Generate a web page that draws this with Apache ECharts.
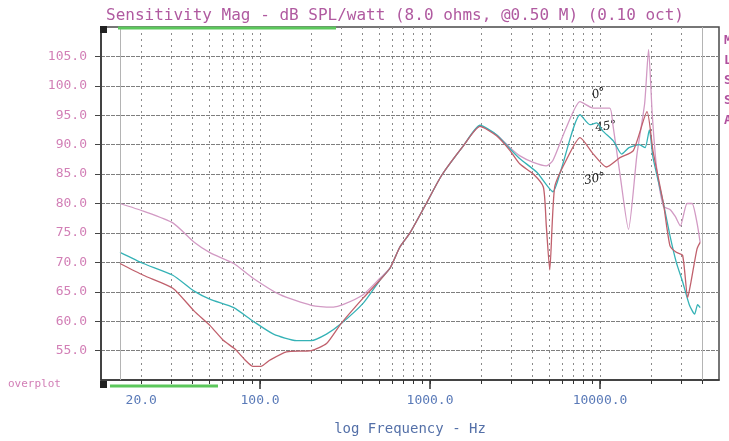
<!DOCTYPE html>
<html>
<head>
<meta charset="utf-8">
<title>Sensitivity Mag</title>
<script src="https://cdn.jsdelivr.net/npm/echarts@6/dist/echarts.min.js"></script>
<style>
  html, body { margin: 0; padding: 0; background: #fff; }
  #chart { width: 729px; height: 441px; }
</style>
</head>
<body>
<div id="chart"></div>
<script>
// frequency in Hz, level in dB SPL
const freq0 = [15, 20.6, 30.7, 41, 51, 70, 91, 131, 200, 270, 307, 404, 508, 581, 665, 762, 950, 1171, 1570, 1967,
  2460, 2955, 3380, 4050, 4830, 5280, 6310, 7630, 9130, 11400, 11900, 13100, 14700, 16500, 18300, 19300, 20300,
  21500, 23600, 25800, 27700, 29700, 32500, 34800, 37200, 38800];
const spl0 = [80, 78.7, 76.7, 73.4, 71.6, 69.8, 67.3, 64.5, 62.7, 62.4, 62.8, 64.5, 67.3, 69, 72.6, 75, 80, 84.8, 89.8, 93.1,
  91.7, 89.5, 88.1, 87, 86.4, 87.3, 92.8, 97.3, 96.2, 96.2, 93.4, 85, 75.6, 88.4, 97, 106.2, 95,
  86.2, 79.5, 79, 77.8, 76.2, 80, 80, 76.7, 73.4];

const freq45 = [15, 20.6, 30.7, 41, 51, 70, 91, 120, 164, 200, 246, 298, 406, 508, 581, 665, 762, 950, 1171, 1570,
  1967, 2460, 2955, 3380, 4250, 5280, 5880, 7630, 8720, 9550, 10400, 12000, 13400, 14800, 17000, 18400, 19500, 20500,
  23600, 25800, 28100, 30600, 33500, 36000, 37500, 38800];
const spl45 = [71.7, 69.8, 67.8, 65.1, 63.7, 62.3, 60, 57.8, 56.7, 56.7, 57.8, 59.5, 63.1, 67, 69, 72.6, 75, 80, 84.8, 89.8,
  93.3, 91.7, 89.3, 87.6, 85.3, 82, 85.6, 95.1, 93.4, 93.7, 92.3, 90.6, 88.4, 89.5, 90, 89.5, 92.5, 87.8,
  80, 74.5, 70, 66.7, 62.8, 61.2, 62.8, 62.3];

const freq30 = [15, 20.6, 30.7, 41, 51, 61, 71, 81.6, 91, 101, 114.5, 143, 200, 246, 298, 406, 508, 581, 665, 762,
  950, 1171, 1570, 1967, 2460, 2955, 3380, 4050, 4640, 4830, 5060, 5410, 6310, 7630, 9130, 10900, 13100, 15700,
  18900, 20500, 23600, 25800, 28100, 30600, 32800, 34300, 37200, 38800];
const spl30 = [69.8, 67.8, 65.6, 61.7, 59.2, 56.7, 55.3, 53.4, 52.3, 52.3, 53.4, 54.8, 55, 56.2, 59.5, 64, 67, 69, 72.6, 75,
  80, 84.8, 89.8, 93.1, 91.5, 89, 86.7, 85, 82.8, 76.2, 68.7, 82.8, 87.3, 91.2, 88.4, 86.2, 87.8, 89,
  95.6, 88.9, 80, 72.8, 71.7, 71.2, 64, 66.7, 72.3, 73.4];

const xLabels = [20, 100, 1000, 10000];
const xMajorTicks = [100, 1000, 10000];
const xGridTicks = [20, 30, 40, 50, 60, 70, 80, 90, 100, 200, 300, 400, 500, 600, 700, 800, 900,
  1000, 2000, 3000, 4000, 5000, 6000, 7000, 8000, 9000, 10000, 20000, 30000, 40000];
const yLabels = [55, 60, 65, 70, 75, 80, 85, 90, 95, 100, 105];
const sweepLimits = [15, 40000];   // solid markers at the ends of the measured range

const pair = (f, s) => f.map((v, i) => [v, s[i]]);

const G = { left: 101, right: 10, top: 27, bottom: 54 };
const mono = 'DejaVu Sans Mono';
const pinkText = '#d27fb6';

const chart = echarts.init(document.getElementById('chart'), null, { renderer: 'canvas' });

chart.setOption({
  animation: false,
  backgroundColor: '#fff',
  title: {
    text: 'Sensitivity Mag - dB SPL/watt (8.0 ohms, @0.50 M) (0.10 oct)',
    left: 101,
    top: 3,
    textStyle: { fontFamily: mono, fontSize: 16, fontWeight: 'normal', color: '#b05aa0' }
  },
  grid: {
    left: G.left, right: G.right, top: G.top, bottom: G.bottom,
    show: true, borderColor: '#4a4a4a', borderWidth: 1.5, backgroundColor: '#fff'
  },
  xAxis: [{
    type: 'log',
    logBase: 10,
    min: 11.6,
    max: 50100,
    name: 'log Frequency - Hz',
    nameLocation: 'middle',
    nameGap: 42,
    nameTextStyle: { fontFamily: mono, fontSize: 14, color: '#5470a8' },
    axisLine: { show: true, lineStyle: { color: '#333', width: 1.5 } },
    axisTick: { show: true, customValues: xGridTicks, length: 4, lineStyle: { color: '#333' } },
    axisLabel: {
      customValues: xLabels,
      margin: 14,
      formatter: v => Number(v).toFixed(1),
      fontFamily: mono, fontSize: 13, color: '#5a7ab8'
    },
    splitLine: { show: true, lineStyle: { color: '#8a8a8a', width: 1, type: [2, 4] } }
  }, {
    type: 'log',
    logBase: 10,
    min: 11.6,
    max: 50100,
    position: 'bottom',
    axisLine: { show: false },
    axisTick: { show: true, customValues: xMajorTicks, length: 9, lineStyle: { color: '#333', width: 1.5 } },
    axisLabel: { show: false },
    splitLine: { show: false }
  }],
  yAxis: {
    type: 'value',
    min: 50,
    max: 110,
    axisLine: { show: true, lineStyle: { color: '#333', width: 1.5 } },
    axisTick: { show: true, customValues: yLabels, length: 6, lineStyle: { color: '#444' } },
    axisLabel: {
      customValues: yLabels,
      margin: 14,
      formatter: v => Number(v).toFixed(1),
      fontFamily: mono, fontSize: 13, color: pinkText
    },
    splitLine: { show: true, lineStyle: { color: '#7e7e7e', width: 1, type: [4, 1] } }
  },
  series: [
    {
      name: '0 deg', type: 'line', data: pair(freq0, spl0), showSymbol: false, smooth: 0.2,
      lineStyle: { color: '#d29ac4', width: 1.3 }, z: 3,
      markLine: {
        silent: true, symbol: 'none', label: { show: false },
        lineStyle: { color: '#b4b4b4', width: 1, type: 'solid' },
        data: sweepLimits.map(f => ({ xAxis: f }))
      }
    },
    {
      name: '45 deg', type: 'line', data: pair(freq45, spl45), showSymbol: false, smooth: 0.2,
      lineStyle: { color: '#35b2b6', width: 1.3 }, z: 4
    },
    {
      name: '30 deg', type: 'line', data: pair(freq30, spl30), showSymbol: false, smooth: 0.2,
      lineStyle: { color: '#c0606c', width: 1.3 }, z: 5
    }
  ]
});

// frame furniture and hand-written notes
const px = (f, db) => chart.convertToPixel({ xAxisIndex: 0, yAxisIndex: 0 }, [f, db]);
const bottomY = 441 - G.bottom;
const note = (txt, f, db, rot) => {
  const p = px(f, db);
  return {
    type: 'text', x: p[0], y: p[1], rotation: rot || 0,
    style: { text: txt, fill: '#222', font: 'italic 12px "DejaVu Serif"', textAlign: 'left', textVerticalAlign: 'middle' }
  };
};
const edgeLetters = ['M', 'L', 'S', 'S', 'A'].map((ch, i) => ({
  type: 'text', x: 724, y: 34 + i * 20,
  style: { text: ch, fill: '#b0509e', font: 'bold 13px "DejaVu Sans Mono"' }
}));

chart.setOption({
  graphic: [
    { type: 'line', shape: { x1: 118, y1: G.top + 1, x2: 336, y2: G.top + 1 }, style: { stroke: '#5cc85c', lineWidth: 3 }, z: 20 },
    { type: 'line', shape: { x1: 110, y1: bottomY - 1, x2: 218, y2: bottomY - 1 }, style: { stroke: '#5cc85c', lineWidth: 3 }, z: 20 },
    { type: 'rect', shape: { x: G.left - 1, y: G.top - 1, width: 7, height: 7 }, style: { fill: '#222' }, z: 21 },
    { type: 'rect', shape: { x: G.left - 1, y: bottomY - 6, width: 7, height: 7 }, style: { fill: '#222' }, z: 21 },
    {
      type: 'text', x: 8, y: bottomY - 3,
      style: { text: 'overplot', fill: pinkText, font: '11px "DejaVu Sans Mono"', textVerticalAlign: 'middle' }
    },
    note('0°', 9000, 98.3, 0.3),
    note('45°', 9400, 92.8, 0.15),
    note('30°', 8100, 83.8, 0.2)
  ].concat(edgeLetters)
});
</script>
</body>
</html>
